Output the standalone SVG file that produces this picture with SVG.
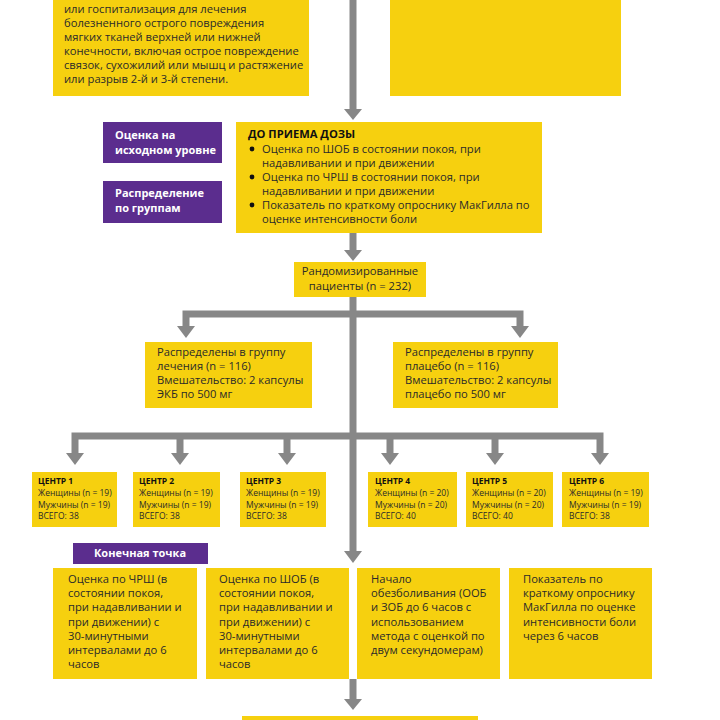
<svg xmlns="http://www.w3.org/2000/svg" width="720" height="720" viewBox="0 0 720 720">
<defs>
<style>
.y{fill:#F6D00F}
.p{fill:#5B2D8E}
.t{font-family:"Open Sans","Noto Sans",sans-serif;font-size:11.2px;fill:#2a2a2a}
.s{font-family:"Open Sans","Noto Sans",sans-serif;font-size:8.5px;fill:#2a2a2a}
.b{font-weight:bold;fill:#111}
.w{font-family:"Open Sans","Noto Sans",sans-serif;font-size:11px;font-weight:bold;fill:#fff}
.c{fill:none;stroke:#878787;stroke-width:7}
.a{fill:#878787}
</style>
</defs>
<rect width="720" height="720" fill="#fff"/>
<g id="connectors">
<path class="c" d="M353 0 V110"/>
<path class="a" d="M344 109 L362 109 L353 120 Z"/>
<path class="c" d="M353 233 V252"/>
<path class="a" d="M344 250 L362 250 L353 261 Z"/>
<path class="c" d="M353 297 V553"/>
<path class="a" d="M344 551 L362 551 L353 563 Z"/>
<path class="c" d="M186 328 V314 H520 V328"/>
<path class="a" d="M177 326 L195 326 L186 338 Z"/>
<path class="a" d="M511 326 L529 326 L520 338 Z"/>
<path class="c" d="M75 455 V436 H600 V455"/>
<path class="c" d="M180 436 V455 M287 436 V455 M390 436 V455 M495 436 V455"/>
<path class="a" d="M66 453 L84 453 L75 465 Z"/>
<path class="a" d="M171 453 L189 453 L180 465 Z"/>
<path class="a" d="M278 453 L296 453 L287 465 Z"/>
<path class="a" d="M381 453 L399 453 L390 465 Z"/>
<path class="a" d="M486 453 L504 453 L495 465 Z"/>
<path class="a" d="M591 453 L609 453 L600 465 Z"/>
<path class="c" d="M353 679 V701"/>
<path class="a" d="M344 699 L362 699 L353 710 Z"/>
</g>
<g id="criteria">
<rect class="y" x="53" y="0" width="256" height="96"/>
<text class="t"><tspan x="64" y="13">или госпитализация для лечения</tspan><tspan x="64" y="27">болезненного острого повреждения</tspan><tspan x="64" y="41">мягких тканей верхней или нижней</tspan><tspan x="64" y="55">конечности, включая острое повреждение</tspan><tspan x="64" y="69">связок, сухожилий или мышц и растяжение</tspan><tspan x="64" y="83">или разрыв 2-й и 3-й степени.</tspan></text>
</g>
<g id="exclusion">
<rect class="y" x="390" y="0" width="231" height="96"/>
</g>
<g id="baseline-label">
<rect class="p" x="103" y="122" width="119" height="41"/>
<text class="w"><tspan x="115" y="139">Оценка на</tspan><tspan x="115" y="154">исходном уровне</tspan></text>
</g>
<g id="allocation-label">
<rect class="p" x="103" y="181" width="119" height="42"/>
<text class="w"><tspan x="115" y="197">Распределение</tspan><tspan x="115" y="212">по группам</tspan></text>
</g>
<g id="predose">
<rect class="y" x="236" y="122" width="306" height="111"/>
<text class="t b" x="248" y="138">ДО ПРИЕМА ДОЗЫ</text>
<circle cx="252" cy="149" r="2.4" fill="#111"/>
<circle cx="252" cy="177" r="2.4" fill="#111"/>
<circle cx="252" cy="205" r="2.4" fill="#111"/>
<text class="t"><tspan x="262" y="153">Оценка по ШОБ в состоянии покоя, при</tspan><tspan x="262" y="167">надавливании и при движении</tspan><tspan x="262" y="181">Оценка по ЧРШ в состоянии покоя, при</tspan><tspan x="262" y="195">надавливании и при движении</tspan><tspan x="262" y="209">Показатель по краткому опроснику МакГилла по</tspan><tspan x="262" y="223">оценке интенсивности боли</tspan></text>
</g>
<g id="randomized">
<rect class="y" x="294" y="262" width="132" height="35"/>
<text class="t" text-anchor="middle"><tspan x="360" y="275">Рандомизированные</tspan><tspan x="360" y="290">пациенты (n = 232)</tspan></text>
</g>
<g id="treatment">
<rect class="y" x="145" y="342" width="167" height="66"/>
<text class="t"><tspan x="157" y="356">Распределены в группу</tspan><tspan x="157" y="370">лечения (n = 116)</tspan><tspan x="157" y="384">Вмешательство: 2 капсулы</tspan><tspan x="157" y="398">ЭКБ по 500 мг</tspan></text>
</g>
<g id="placebo">
<rect class="y" x="393" y="342" width="165" height="66"/>
<text class="t"><tspan x="405" y="356">Распределены в группу</tspan><tspan x="405" y="370">плацебо (n = 116)</tspan><tspan x="405" y="384">Вмешательство: 2 капсулы</tspan><tspan x="405" y="398">плацебо по 500 мг</tspan></text>
</g>
<g id="center1">
<rect class="y" x="32" y="472" width="85" height="55"/>
<text class="s"><tspan class="b" x="38" y="484">ЦЕНТР 1</tspan><tspan x="38" y="496">Женщины (n = 19)</tspan><tspan x="38" y="507.5">Мужчины (n = 19)</tspan><tspan x="38" y="519">ВСЕГО: 38</tspan></text>
</g>
<g id="center2">
<rect class="y" x="133" y="472" width="87" height="55"/>
<text class="s"><tspan class="b" x="139" y="484">ЦЕНТР 2</tspan><tspan x="139" y="496">Женщины (n = 19)</tspan><tspan x="139" y="507.5">Мужчины (n = 19)</tspan><tspan x="139" y="519">ВСЕГО: 38</tspan></text>
</g>
<g id="center3">
<rect class="y" x="240" y="472" width="86" height="55"/>
<text class="s"><tspan class="b" x="246" y="484">ЦЕНТР 3</tspan><tspan x="246" y="496">Женщины (n = 19)</tspan><tspan x="246" y="507.5">Мужчины (n = 19)</tspan><tspan x="246" y="519">ВСЕГО: 38</tspan></text>
</g>
<g id="center4">
<rect class="y" x="368" y="472" width="89" height="55"/>
<text class="s"><tspan class="b" x="375" y="484">ЦЕНТР 4</tspan><tspan x="375" y="496">Женщины (n = 20)</tspan><tspan x="375" y="507.5">Мужчины (n = 20)</tspan><tspan x="375" y="519">ВСЕГО: 40</tspan></text>
</g>
<g id="center5">
<rect class="y" x="466" y="472" width="87" height="55"/>
<text class="s"><tspan class="b" x="472" y="484">ЦЕНТР 5</tspan><tspan x="472" y="496">Женщины (n = 20)</tspan><tspan x="472" y="507.5">Мужчины (n = 20)</tspan><tspan x="472" y="519">ВСЕГО: 40</tspan></text>
</g>
<g id="center6">
<rect class="y" x="562" y="472" width="87" height="55"/>
<text class="s"><tspan class="b" x="569" y="484">ЦЕНТР 6</tspan><tspan x="569" y="496">Женщины (n = 19)</tspan><tspan x="569" y="507.5">Мужчины (n = 19)</tspan><tspan x="569" y="519">ВСЕГО: 38</tspan></text>
</g>
<g id="endpoint-label">
<rect class="p" x="73" y="543" width="135" height="21"/>
<text class="w" x="140" y="557" text-anchor="middle">Конечная точка</text>
</g>
<g id="endpoint1">
<rect class="y" x="53" y="568" width="144" height="111"/>
<text class="t"><tspan x="68" y="583">Оценка по ЧРШ (в</tspan><tspan x="68" y="597">состоянии покоя,</tspan><tspan x="68" y="611">при надавливании и</tspan><tspan x="68" y="626">при движении) с</tspan><tspan x="68" y="640">30-минутными</tspan><tspan x="68" y="654">интервалами до 6</tspan><tspan x="68" y="668">часов</tspan></text>
</g>
<g id="endpoint2">
<rect class="y" x="206" y="568" width="143" height="111"/>
<text class="t"><tspan x="219" y="583">Оценка по ШОБ (в</tspan><tspan x="219" y="597">состоянии покоя,</tspan><tspan x="219" y="611">при надавливании и</tspan><tspan x="219" y="626">при движении) с</tspan><tspan x="219" y="640">30-минутными</tspan><tspan x="219" y="654">интервалами до 6</tspan><tspan x="219" y="668">часов</tspan></text>
</g>
<g id="endpoint3">
<rect class="y" x="357" y="568" width="143" height="111"/>
<text class="t"><tspan x="371" y="583">Начало</tspan><tspan x="371" y="597">обезболивания (ООБ</tspan><tspan x="371" y="611">и ЗОБ до 6 часов с</tspan><tspan x="371" y="626">использованием</tspan><tspan x="371" y="640">метода с оценкой по</tspan><tspan x="371" y="654">двум секундомерам)</tspan></text>
</g>
<g id="endpoint4">
<rect class="y" x="509" y="568" width="143" height="111"/>
<text class="t"><tspan x="523" y="583">Показатель по</tspan><tspan x="523" y="597">краткому опроснику</tspan><tspan x="523" y="611">МакГилла по оценке</tspan><tspan x="523" y="626">интенсивности боли</tspan><tspan x="523" y="640">через 6 часов</tspan></text>
</g>
<g id="next">
<rect class="y" x="242" y="716" width="236" height="4"/>
</g>
</svg>
